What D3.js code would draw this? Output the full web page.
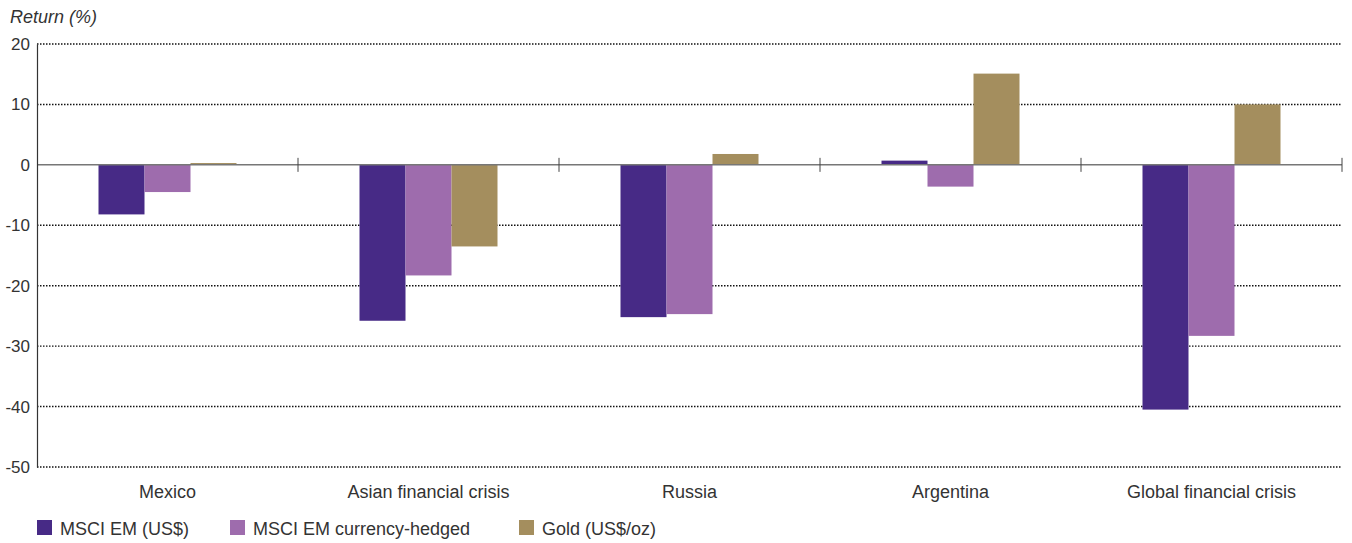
<!DOCTYPE html>
<html><head><meta charset="utf-8">
<script src="https://cdn.jsdelivr.net/npm/d3@7/dist/d3.min.js"></script>
<style>body{margin:0;background:#fff}svg{display:block}text{font-family:"Liberation Sans",Arial,sans-serif;fill:#333}</style>
</head><body><svg id="c" width="1352" height="543"></svg>
<script>
const categories = ["Mexico","Asian financial crisis","Russia","Argentina","Global financial crisis"];
const seriesNames = ["MSCI EM (US$)","MSCI EM currency-hedged","Gold (US$/oz)"];
const msciEM = [-8.2,-25.8,-25.2,0.7,-40.5];
const msciHedged = [-4.5,-18.3,-24.7,-3.6,-28.3];
const gold = [0.3,-13.5,1.8,15.1,10.0];
const yTicks = [20,10,0,-10,-20,-30,-40,-50];
const colors = ["#472A86","#9E6CAD","#A48E5E"];
const seriesValues = [msciEM, msciHedged, gold];

const svg = d3.select("#c");
const L = 37, R = 1342, T = 44, B = 467;
const y = d3.scaleLinear().domain([-50,20]).range([B,T]);
const x0 = d3.scaleBand().domain(categories).range([L,R]).padding(0);
const x1 = d3.scaleBand().domain(seriesNames).range([0,x0.bandwidth()]).paddingInner(0).paddingOuter(1.337);

// gridlines
svg.append("g").selectAll("line").data(yTicks.filter(d=>d!==0)).join("line")
  .attr("x1",L).attr("x2",R).attr("y1",d=>y(d)).attr("y2",d=>y(d))
  .attr("stroke","#111").attr("stroke-width",1.4).attr("stroke-dasharray","1.5,1.5");

// bars
categories.forEach((c,i)=>{
  svg.append("g").selectAll("rect").data(seriesNames).join("rect")
    .attr("x",(s)=>x0(c)+x1(s)).attr("width",x1.bandwidth())
    .attr("y",(s,j)=>y(Math.max(0,seriesValues[j][i])))
    .attr("height",(s,j)=>Math.abs(y(seriesValues[j][i])-y(0)))
    .attr("fill",(s,j)=>colors[j]);
});

// zero line + category ticks
svg.append("line").attr("x1",L).attr("x2",R).attr("y1",y(0)).attr("y2",y(0))
  .attr("stroke","#777").attr("stroke-width",1.5);
svg.append("g").selectAll("line").data(categories.slice(1).concat(["__end"])).join("line")
  .attr("x1",d=>d==="__end"?R:x0(d)).attr("x2",d=>d==="__end"?R:x0(d))
  .attr("y1",y(0)-7).attr("y2",y(0)+7).attr("stroke","#444").attr("stroke-width",1);

// y axis
const yAxis = d3.axisLeft(y).tickValues(yTicks).tickSize(0).tickPadding(7).tickFormat(d=>String(d));
const ga = svg.append("g").attr("transform",`translate(${L},0)`).call(yAxis);
ga.select(".domain").attr("stroke","#333").attr("stroke-width",1.2);
ga.selectAll("text").style("font-size","17px").style("fill","#333").attr("font-family","Liberation Sans, Arial, sans-serif");

// x labels
const xAxis = d3.axisBottom(x0).tickSize(0).tickPadding(0);
const gx = svg.append("g").attr("transform",`translate(0,498)`).call(xAxis);
gx.select(".domain").remove();
gx.selectAll("text").attr("dy",0).attr("y",0).style("font-size","18px").style("fill","#333").attr("font-family","Liberation Sans, Arial, sans-serif");

// y title
svg.append("text").attr("x",10).attr("y",23).style("font-size","18px").style("font-style","italic").text("Return (%)");

// legend
const legX = [37,230,519];
const lg = svg.append("g").selectAll("g").data(seriesNames).join("g")
  .attr("transform",(d,i)=>`translate(${legX[i]},520)`);
lg.append("rect").attr("width",15).attr("height",15).attr("fill",(d,i)=>colors[i]);
lg.append("text").attr("x",23).attr("y",15).style("font-size","18px").text(d=>d);
</script></body></html>
